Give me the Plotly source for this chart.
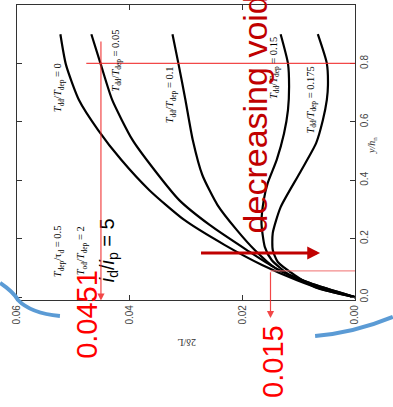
import plotly.graph_objects as go

# Boundary-layer thickness 2δ/L versus normalised height y/h_n,
# one curve per ratio T_dd/T_dep (plot turned on its side).
ratio_labels = ["0", "0.05", "0.1", "0.15", "0.175"]

yh_0 = [0.9, 0.795, 0.675, 0.572, 0.47, 0.366, 0.264, 0.178, 0.11, 0.058, 0.024, 0.0]
dl_0 = [0.0523, 0.0513, 0.0490, 0.0456, 0.0415, 0.0365, 0.0303, 0.0231, 0.0165, 0.0103, 0.0053, 0.0]

yh_05 = [0.9, 0.795, 0.675, 0.538, 0.435, 0.332, 0.247, 0.161, 0.1, 0.048, 0.0]
dl_05 = [0.0468, 0.0451, 0.0431, 0.0395, 0.0356, 0.0312, 0.0258, 0.0192, 0.0142, 0.0080, 0.0]

yh_1 = [0.9, 0.795, 0.675, 0.538, 0.418, 0.315, 0.23, 0.161, 0.1, 0.048, 0.0]
dl_1 = [0.0324, 0.0313, 0.0301, 0.0288, 0.0271, 0.0244, 0.0210, 0.0178, 0.0142, 0.0080, 0.0]

yh_15 = [0.9, 0.8, 0.72, 0.64, 0.56, 0.47, 0.39, 0.332, 0.253, 0.171, 0.127, 0.075, 0.031, 0.0]
dl_15 = [0.0132, 0.0119, 0.0117, 0.0119, 0.0126, 0.0139, 0.0155, 0.0162, 0.0166, 0.0160, 0.0148, 0.0116, 0.0062, 0.0]

yh_175 = [0.9, 0.8, 0.726, 0.675, 0.606, 0.527, 0.425, 0.308, 0.219, 0.161, 0.12, 0.075, 0.034, 0.0]
dl_175 = [0.0066, 0.0050, 0.0048, 0.0050, 0.0057, 0.0069, 0.0098, 0.0132, 0.0146, 0.0146, 0.0137, 0.0107, 0.0071, 0.0]

curves = [(yh_0, dl_0), (yh_05, dl_05), (yh_1, dl_1), (yh_15, dl_15), (yh_175, dl_175)]

# read-off points marked on the plot
read_high_yh, read_high_dl = 0.8, 0.0451
read_low_yh, read_low_dl = 0.09, 0.015

x_ticks = [0.06, 0.04, 0.02, 0.00]
x_tick_text = ["0.06", "0.04", "0.02", "0.00"]
y_ticks = [0.0, 0.2, 0.4, 0.6, 0.8, 1.0]
y_tick_text = ["0.0", "0.2", "0.4", "0.6", "0.8", "1.0"]

fig = go.Figure()
for yh, dl in curves:
    fig.add_trace(go.Scatter(
        x=dl, y=yh, mode="lines",
        line=dict(color="black", width=2.2, shape="spline", smoothing=0.6),
        showlegend=False, hoverinfo="skip",
    ))

RED = "rgba(240,40,40,0.85)"
PINK = "rgba(240,110,110,0.8)"
DARK_RED = "#c00000"

shapes = [
    dict(type="line", xref="x", yref="y", x0=0.0477, x1=0.0, y0=read_high_yh, y1=read_high_yh,
         line=dict(color=RED, width=1.2)),
    dict(type="line", xref="x", yref="y", x0=read_low_dl, x1=0.0, y0=read_low_yh, y1=read_low_yh,
         line=dict(color=PINK, width=1.2)),
    # light-blue bracket strokes round the lower corners
    dict(type="path", xref="paper", yref="paper",
         path="M -0.050,0.058 Q -0.010,0.027 0.003,0.0 Q 0.04,-0.045 0.127,-0.054",
         line=dict(color="#5b9bd5", width=4)),
    dict(type="path", xref="paper", yref="paper",
         path="M 0.882,-0.122 Q 1.0,-0.11 1.112,-0.057",
         line=dict(color="#5b9bd5", width=4)),
]

ann = []


def label(x, y, text, size=10.5, color="black", angle=-90, family="Liberation Serif",
          xanchor="center", yanchor="middle", ref="data"):
    xr, yr = ("x", "y") if ref == "data" else ("paper", "paper")
    ann.append(dict(x=x, y=y, xref=xr, yref=yr, text=text, showarrow=False,
                    textangle=angle, xanchor=xanchor, yanchor=yanchor,
                    font=dict(size=size, color=color, family=family)))


T = "<i>T</i>"
for (xx, yy), r in zip([(0.0525, 0.716), (0.0425, 0.808), (0.0326, 0.692),
                        (0.0144, 0.784), (0.0077, 0.675)], ratio_labels):
    label(xx, yy, f"{T}<sub>dd</sub>/{T}<sub>dep</sub> = {r}")

label(0.0525, 0.158, f"{T}<sub>dep</sub>/τ<sub>d</sub> = 0.5")
label(0.0484, 0.158, f"{T}<sub>od</sub>/{T}<sub>dep</sub> = 2")
label(0.0438, 0.161, "<i>i</i><sub>d</sub>/<i>i</i><sub>p</sub> = 5", size=20,
      family="Liberation Sans")
label(0.0178, 0.212, "decreasing voids", size=34, color=DARK_RED, family="Liberation Sans",
      yanchor="bottom")

# texts below and beside the frame are placed in paper coordinates
label(0.207, -0.047, f"{read_high_dl:.4f}", size=29, color="#ff0000",
      family="Liberation Sans", ref="paper")
label(0.757, -0.207, f"{read_low_dl:.3f}", size=29, color="#ff0000",
      family="Liberation Sans", ref="paper")
label(0.503, -0.146, "2δ/L", size=10, color="#333", angle=180, ref="paper")
label(1.050, 0.525, "<i>y/h</i><sub>n</sub>", size=10, color="#333", ref="paper")

# read-off arrows
ann.append(dict(x=read_high_dl, y=-0.012, ax=read_high_dl, ay=0.88, xref="x", yref="y",
                axref="x", ayref="y", showarrow=True, arrowhead=2, arrowsize=1.2,
                arrowwidth=1.2, arrowcolor=RED, text=""))
ann.append(dict(x=read_low_dl, y=-0.072, ax=read_low_dl, ay=read_low_yh, xref="x", yref="y",
                axref="x", ayref="y", showarrow=True, arrowhead=2, arrowsize=1.2,
                arrowwidth=1.2, arrowcolor=RED, text=""))
ann.append(dict(x=0.0062, y=0.151, ax=0.0276, ay=0.151, xref="x", yref="y",
                axref="x", ayref="y", showarrow=True, arrowhead=2, arrowsize=0.8,
                arrowwidth=3.2, arrowcolor=DARK_RED, text=""))

axis_common = dict(showgrid=False, zeroline=False, showline=True, linecolor="#333",
                   linewidth=1.3, mirror="allticks", ticks="inside", ticklen=5,
                   tickcolor="#333", tickangle=-90,
                   tickfont=dict(size=10, color="#444", family="Liberation Sans"))

fig.update_layout(
    width=393, height=407,
    margin=dict(l=17, r=38, t=5, b=107),
    paper_bgcolor="white", plot_bgcolor="white",
    xaxis=dict(range=[0.06, 0.0], tickvals=x_ticks, ticktext=x_tick_text, **axis_common),
    yaxis=dict(range=[-0.01, 1.0], tickvals=y_ticks, ticktext=y_tick_text, side="right",
               **axis_common),
    shapes=shapes, annotations=ann,
)

fig.write_html("out.html")
